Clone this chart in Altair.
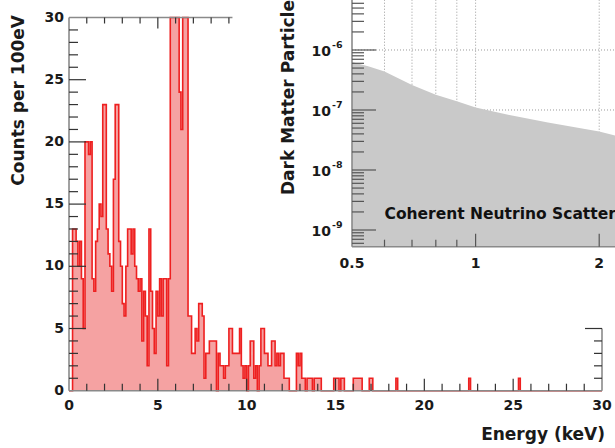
import altair as alt
import pandas as pd

# ---------------- data ----------------
# counts per 0.1 keV bin, 0-30 keV (one row = 1 keV); bins above 30 are off-scale (clamped)
counts = (
    [0, 0, 13, 13, 12, 10, 12, 9, 5, 20] +
    [20, 19, 20, 9, 8, 12, 13, 15, 14, 23] +
    [23, 13, 11, 10, 8, 17, 23, 23, 12, 10] +
    [7, 6, 10, 13, 13, 11, 13, 10, 9, 8] +
    [9, 4, 8, 6, 2, 13, 8, 5, 3, 8] +
    [6, 9, 6, 9, 9, 2, 9, 38, 52, 47] +
    [41, 36, 24, 21, 33, 35, 31, 6, 6, 3] +
    [3, 5, 4, 7, 7, 6, 1, 3, 3, 4] +
    [4, 4, 4, 0, 3, 2, 2, 1, 2, 2] +
    [5, 5, 3, 3, 3, 3, 5, 2, 1, 2] +
    [0, 2, 4, 4, 1, 2, 0, 2, 5, 5] +
    [3, 3, 2, 2, 4, 4, 2, 3, 2, 3] +
    [3, 1, 1, 1, 0, 0, 0, 0, 3, 2] +
    [3, 1, 1, 0, 1, 1, 1, 0, 1, 1] +
    [1, 1, 0, 0, 0, 0, 0, 0, 0, 1] +
    [1, 1, 0, 1, 1, 0, 0, 0, 0, 0] +
    [1, 1, 1, 1, 1, 0, 0, 0, 0, 1] +
    [1, 0, 0, 0, 0, 0, 0, 0, 0, 0] +
    [0, 0, 0, 0, 1, 0, 0, 0, 0, 0] +
    [0, 0, 0, 0, 0, 0, 0, 0, 0, 0] +
    [0, 0, 0, 0, 0, 0, 0, 0, 0, 0] +
    [0, 0, 0, 0, 0, 0, 0, 0, 0, 0] +
    [0, 0, 0, 0, 0, 1, 0, 0, 0, 0] +
    [0, 0, 0, 0, 0, 0, 0, 0, 0, 0] +
    [0, 0, 0, 0, 0, 0, 0, 0, 0, 0] +
    [0, 0, 0, 1, 0, 0, 0, 0, 0, 0] +
    [0, 0, 0, 0, 0, 0, 0, 0, 0, 0] +
    [0, 0, 0, 0, 0, 0, 0, 0, 0, 0] +
    [0, 0, 0, 0, 0, 0, 0, 0, 0, 0] +
    [0, 0, 0, 0, 0, 0, 0, 0, 0, 0]
)
bin_width = 0.1

# inset: neutrino floor (dark matter mass vs cross section)
mass = [0.5, 0.55, 0.6, 0.7, 0.8, 0.9, 1.0, 1.2, 1.5, 2.0, 2.2]
xsec = [6.3e-7, 5.3e-7, 4.4e-7, 2.6e-7, 1.8e-7, 1.4e-7, 1.1e-7, 8.3e-8, 6.2e-8, 4.4e-8, 3.7e-8]
annot = ["Coherent Neutrino Scattering"]

# titles
x_title = ["Energy (keV)"]
y_title = ["Counts per 100eV"]
in_y_title = ["Dark Matter Particle Cross Section (cm\u00b2)"]

# tick / label values
x_labels = [0, 5, 10, 15, 20, 25, 30]
y_labels = [0, 5, 10, 15, 20, 25, 30]
x_major = [5, 10, 15, 20, 25]
x_minor = [v for v in range(1, 30) if v % 5]
y_major = [5, 10, 15, 20, 25]
y_minor = [v for v in range(1, 30) if v % 5]
top_major = [5]
top_minor = [1, 2, 3, 4, 6, 7, 8, 9]
right_major = [5]
right_minor = [1, 2, 3, 4]

in_x_labels = [0.5, 1, 2]
in_x_major = [1, 2]
in_x_minor = [0.6, 0.7, 0.8, 0.9]
in_y_labels = [1e-9, 1e-8, 1e-7, 1e-6]
in_y_exps = ["-9", "-8", "-7", "-6"]
in_y_minor = [k * 10.0 ** e for e in range(-10, -5) for k in range(2, 10)
              if 5.3e-10 <= k * 10.0 ** e <= 6.8e-6]
grid_x = [0.6, 0.7, 0.8, 0.9, 1, 2]
grid_y = [1e-9, 1e-8, 1e-7, 1e-6]

# ---------------- layout (pixels) ----------------
W, H = 615, 448
MX0, MX1 = 69, 602
MY0, MY1 = 390.7, 17.5
IX0, IX1 = 352, 616.2
IY0, IY1 = 246.7, 0
IYMIN, IYMAX = 5.27e-10, 6.81e-6
IXMIN, IXMAX = 0.5, 2.2
TOP_END = 9.2      # visible end of the top frame (rest hidden by inset)
RIGHT_END = 5      # visible end of the right frame

PX_KEV = (MX1 - MX0) / 30.0
PX_CNT = (MY0 - MY1) / 30.0
PX_DEC_X = (IX1 - IX0) / 0.6434527   # log10(2.2/0.5)
PX_DEC_Y = (IY0 - IY1) / 4.1112      # log10(6.81e-6/5.27e-10)

FONT = "DejaVu Sans"
FILL = "#f5a2a2"
LINE = "#ee2020"
DOMC = "#8a8a8a"
TICKC = "#333333"
ITICKC = "#555555"
TXTC = "#1a1a1a"

main_x = alt.Scale(domain=[0, 30], range=[MX0, MX1], nice=False, zero=False)
main_y = alt.Scale(domain=[0, 30], range=[MY0, MY1], nice=False, clamp=True)
in_x = alt.Scale(type="log", domain=[IXMIN, IXMAX], range=[IX0, IX1], nice=False)
in_y = alt.Scale(type="log", domain=[IYMIN, IYMAX], range=[IY0, IY1], nice=False)

_uid = [0]


def _frame(vals):
    _uid[0] += 1
    name = "t%d" % _uid[0]
    return name, pd.DataFrame({name: vals})


def vrule(vals, xscale, y_from, y_to, yscale, color, width=1.2):
    """vertical segments at x = vals, from y_from to y_to (data units)"""
    name, df = _frame(vals)
    return alt.Chart(df).transform_calculate(
        a=repr(float(y_from)), b=repr(float(y_to))).mark_rule(
        color=color, strokeWidth=width).encode(
        x=alt.X(name + ":Q", scale=xscale, axis=None),
        y=alt.Y("a:Q", scale=yscale, axis=None), y2="b:Q")


def hrule(vals, yscale, x_from, x_to, xscale, color, width=1.2):
    """horizontal segments at y = vals, from x_from to x_to (data units)"""
    name, df = _frame(vals)
    return alt.Chart(df).transform_calculate(
        a=repr(float(x_from)), b=repr(float(x_to))).mark_rule(
        color=color, strokeWidth=width).encode(
        y=alt.Y(name + ":Q", scale=yscale, axis=None),
        x=alt.X("a:Q", scale=xscale, axis=None), x2="b:Q")


def xlabels(vals, xscale, y_at, yscale, fmt, dy, size=14):
    name, df = _frame(vals)
    return alt.Chart(df).transform_calculate(a=repr(float(y_at))).mark_text(
        font=FONT, fontWeight="bold", fontSize=size, color=TXTC,
        align="center", baseline="middle", dy=dy).encode(
        x=alt.X(name + ":Q", scale=xscale, axis=None),
        y=alt.Y("a:Q", scale=yscale, axis=None),
        text=alt.Text(name + ":Q", format=fmt))


def ylabels(vals, yscale, x_at, xscale, dx, dy=0, fmt="d", const=None, size=14):
    name, df = _frame(vals)
    mark = dict(font=FONT, fontWeight="bold", fontSize=size, color=TXTC,
                align="right", baseline="middle", dx=dx, dy=dy)
    if const is not None:
        mark["text"] = const
    ch = alt.Chart(df).transform_calculate(a=repr(float(x_at))).mark_text(**mark)
    enc = dict(y=alt.Y(name + ":Q", scale=yscale, axis=None),
               x=alt.X("a:Q", scale=xscale, axis=None))
    if const is None:
        enc["text"] = alt.Text(name + ":Q", format=fmt)
    return ch.encode(**enc)


def title_text(texts, xscale, x_at, yscale, y_at, **mark):
    df = pd.DataFrame({"title": texts})
    return alt.Chart(df).transform_calculate(
        a=repr(float(x_at)), b=repr(float(y_at))).mark_text(
        font=FONT, fontWeight="bold", fontSize=17, color=TXTC, **mark).encode(
        x=alt.X("a:Q", scale=xscale, axis=None),
        y=alt.Y("b:Q", scale=yscale, axis=None),
        text="title:N")


# ---------------- main histogram ----------------
edges = [round(i * bin_width, 1) for i in range(len(counts))] + [30.0]
df_hist = pd.DataFrame({"E": edges, "count": counts + [counts[-1]]})

hist = alt.Chart(df_hist)
henc = dict(x=alt.X("E:Q", scale=main_x, axis=None),
            y=alt.Y("count:Q", scale=main_y, axis=None))
main_layer = alt.layer(
    hist.mark_area(interpolate="step-after", color=FILL).encode(**henc),
    hist.mark_line(interpolate="step-after", color=LINE, strokeWidth=1.6).encode(**henc),
    # frame lines (top/right only where not hidden by the inset)
    hrule([0], main_y, 0, 30, main_x, DOMC, 1.6),
    vrule([0], main_x, 0, 30, main_y, DOMC, 1.6),
    hrule([30], main_y, 0, TOP_END, main_x, DOMC, 1.6),
    vrule([30], main_x, 0, RIGHT_END, main_y, DOMC, 1.6),
    # inward ticks
    vrule(x_major, main_x, 0, 12 / PX_CNT, main_y, TICKC),
    vrule(x_minor, main_x, 0, 7 / PX_CNT, main_y, TICKC),
    hrule(y_major, main_y, 0, 17 / PX_KEV, main_x, TICKC),
    hrule(y_minor, main_y, 0, 9 / PX_KEV, main_x, TICKC),
    vrule(top_major, main_x, 30, 30 - 11 / PX_CNT, main_y, TICKC),
    vrule(top_minor, main_x, 30, 30 - 6 / PX_CNT, main_y, TICKC),
    hrule(right_major, main_y, 30, 30 - 17 / PX_KEV, main_x, TICKC),
    hrule(right_minor, main_y, 30, 30 - 8 / PX_KEV, main_x, TICKC),
    # tick labels
    xlabels(x_labels, main_x, 0, main_y, "d", dy=15),
    ylabels(y_labels, main_y, 0, main_x, dx=-5),
    # axis titles
    title_text(x_title, main_x, 30, main_y, 0, align="right", baseline="alphabetic",
               dx=3, dy=49),
    title_text(y_title, main_x, 0, main_y, 30, align="right", baseline="middle",
               angle=270, dx=2.5, dy=-50),
)

# ---------------- inset ----------------
df_curve = pd.DataFrame({"mass": mass, "xs": xsec})
df_gx = pd.DataFrame({"gmass": grid_x})
df_gy = pd.DataFrame({"gxs": grid_y})
df_annot = pd.DataFrame({"label": annot})
df_exp = pd.DataFrame({"exs": in_y_labels, "exp": in_y_exps})

grid_style = dict(color="#9a9a9a", strokeDash=[1, 2], strokeWidth=1)
vgrid = alt.Chart(df_gx).transform_calculate(
    a=repr(IYMIN), b=repr(IYMAX)).mark_rule(**grid_style).encode(
    x=alt.X("gmass:Q", scale=in_x, axis=None),
    y=alt.Y("a:Q", scale=in_y, axis=None), y2="b:Q")
hgrid = alt.Chart(df_gy).transform_calculate(
    a=repr(IXMIN), b=repr(IXMAX)).mark_rule(**grid_style).encode(
    y=alt.Y("gxs:Q", scale=in_y, axis=None),
    x=alt.X("a:Q", scale=in_x, axis=None), x2="b:Q")
floor = alt.Chart(df_curve).transform_calculate(base=repr(IYMIN)).mark_area(
    color="#c9c9c9").encode(
    x=alt.X("mass:Q", scale=in_x, axis=None),
    y=alt.Y("xs:Q", scale=in_y, axis=None), y2="base:Q")
label = alt.Chart(df_annot).transform_calculate(a="0.6", b="1.5e-9").mark_text(
    font=FONT, fontWeight="bold", fontSize=15.5, color="#111111",
    align="left", baseline="alphabetic").encode(
    x=alt.X("a:Q", scale=in_x, axis=None),
    y=alt.Y("b:Q", scale=in_y, axis=None), text="label:N")
exps = alt.Chart(df_exp).transform_calculate(a=repr(IXMIN)).mark_text(
    font=FONT, fontWeight="bold", fontSize=9.5, color=TXTC,
    align="left", baseline="middle", dx=-20, dy=-5).encode(
    x=alt.X("a:Q", scale=in_x, axis=None),
    y=alt.Y("exs:Q", scale=in_y, axis=None), text="exp:N")


def xlen(px):
    return IXMIN * 10 ** (px / PX_DEC_X)


def ylen(px):
    return IYMIN * 10 ** (px / PX_DEC_Y)


inset_layer = alt.layer(
    vgrid, hgrid, floor, label,
    # inset frame lines
    vrule([IXMIN], in_x, IYMIN, IYMAX, in_y, DOMC, 1.6),
    hrule([IYMIN], in_y, IXMIN, IXMAX, in_x, DOMC, 1.6),
    # inward ticks
    hrule(in_y_labels, in_y, IXMIN, xlen(24), in_x, ITICKC),
    hrule(in_y_minor, in_y, IXMIN, xlen(12), in_x, ITICKC),
    vrule(in_x_major, in_x, IYMIN, ylen(13), in_y, ITICKC),
    vrule(in_x_minor, in_x, IYMIN, ylen(7), in_y, ITICKC),
    # labels
    xlabels(in_x_labels, in_x, IYMIN, in_y, "~g", dy=17),
    ylabels(in_y_labels, in_y, IXMIN, in_x, dx=-21, dy=2, const="10"),
    exps,
    title_text(in_y_title, in_x, IXMIN, in_y, IYMIN, align="left", baseline="middle",
               angle=270, dx=51.7, dy=-63.5),
)

chart = alt.layer(main_layer, inset_layer).resolve_scale(
    x="independent", y="independent").properties(
    width=W, height=H, padding=0, background="white",
    autosize=alt.AutoSizeParams(type="none"),
).configure_view(strokeWidth=0)

chart.save("out.html", embed_options={"renderer": "svg", "actions": False})
